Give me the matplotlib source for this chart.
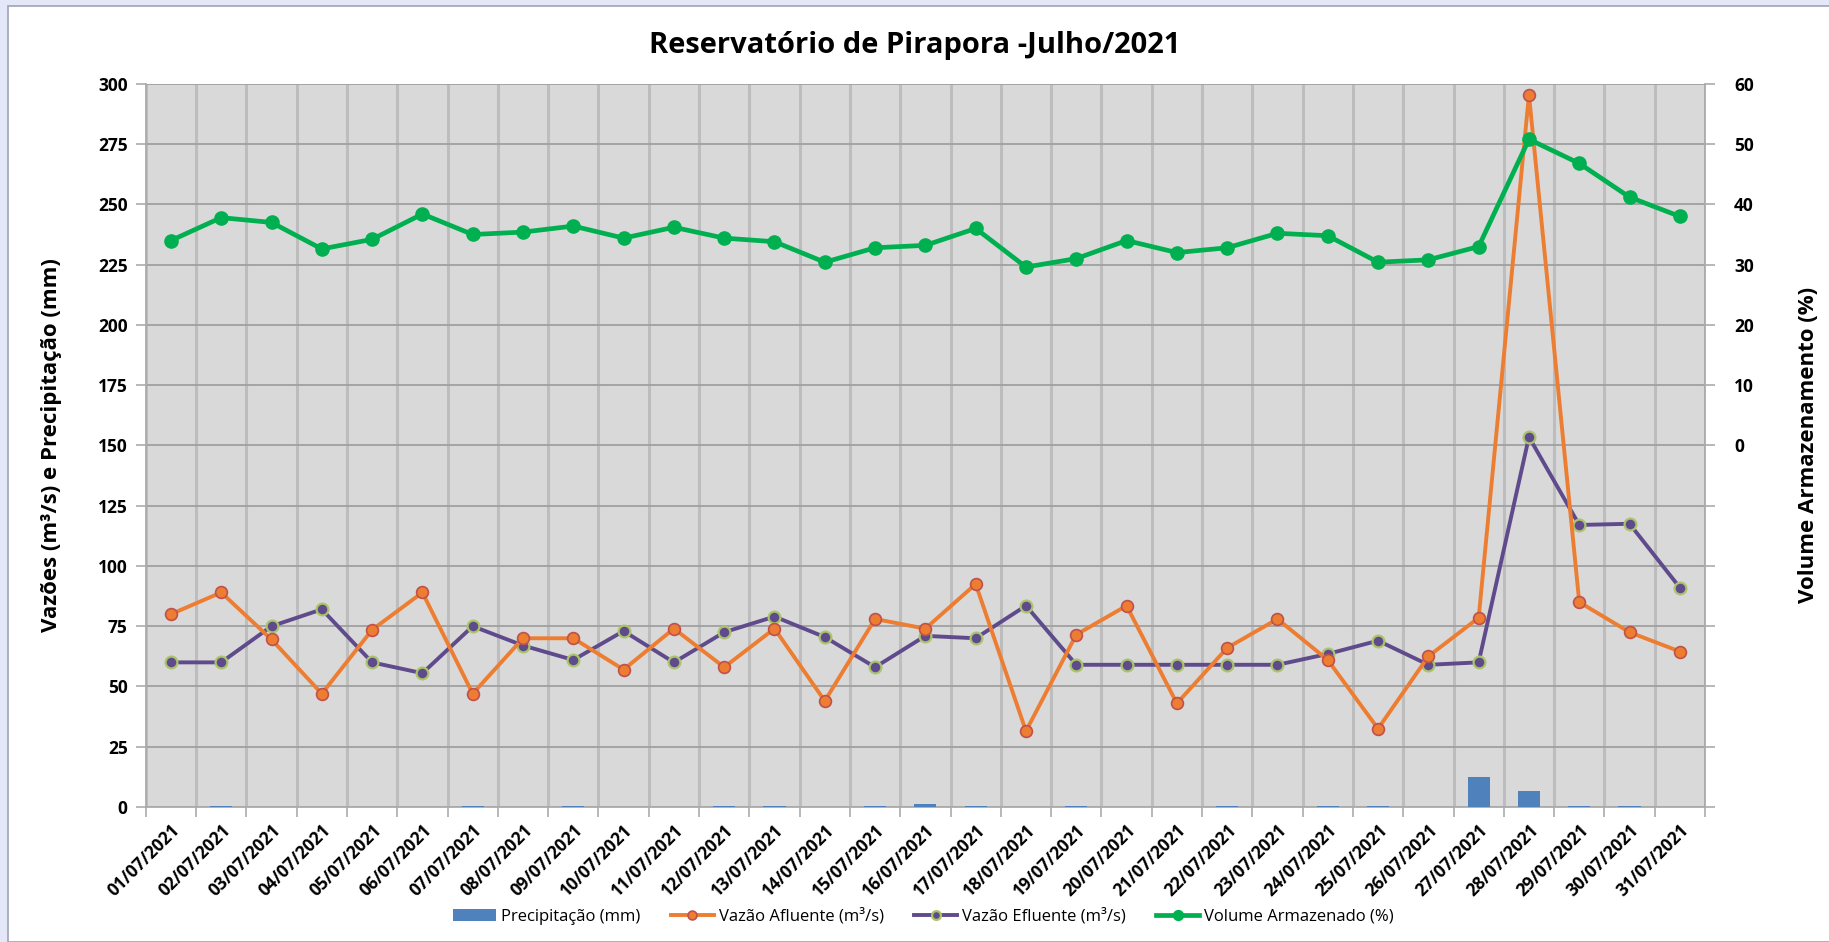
import matplotlib
matplotlib.use("Agg")
import matplotlib.pyplot as plt
from matplotlib.patches import Rectangle
import numpy as np

plt.rcParams["font.family"] = ["Open Sans", "DejaVu Sans"]

# data
dates = [f"{d:02d}/07/2021" for d in range(1, 32)]
precip = [0, 0.6, 0, 0, 0, 0, 0.6, 0, 0.6, 0, 0, 0.6, 0.6, 0, 0.6, 1.2,
          0.6, 0, 0.6, 0, 0, 0.6, 0, 0.6, 0.6, 0, 12.5, 6.5, 0.6, 0.6, 0]
afluente = [80, 89, 69.5, 47, 73.5, 89, 47, 70, 70, 57, 74, 58, 74, 44, 78,
            74, 92.5, 31.5, 71.5, 83.5, 43, 66, 78, 61, 32.5, 62.5, 78.5,
            295.5, 85, 72.5, 64.5]
efluente = [60, 60, 75, 82, 60, 55.5, 75, 67, 61, 73, 60, 72.5, 79, 70.5, 58,
            71, 70, 83.5, 59, 59, 59, 59, 59, 63.5, 69, 59, 60, 153.5, 117,
            117.5, 91]
volume = [34.0, 37.8, 37.0, 32.6, 34.2, 38.4, 35.0, 35.4, 36.4, 34.4, 36.2,
          34.4, 33.8, 30.4, 32.8, 33.2, 36.0, 29.6, 31.0, 34.0, 32.0, 32.8,
          35.2, 34.8, 30.4, 30.8, 33.0, 50.8, 46.8, 41.2, 38.0]

C_BAR = "#4F81BD"
C_AFL = "#ED7D31"
C_EFL = "#5F4B8B"
C_VOL = "#00B050"
C_GRID = "#ABABAB"

fig = plt.figure(figsize=(18.29, 9.42), dpi=100)
fig.patch.set_facecolor("#E3E7F7")
# white card on the lavender background
card = Rectangle((8 / 1829, 0), 1, 1 - 6 / 942, transform=fig.transFigure,
                 facecolor="white", edgecolor="#9EA3B5", lw=1.2, zorder=-10)
fig.add_artist(card)

ax = fig.add_axes([0.0797, 0.1433, 0.8525, 0.7677])
ax.set_facecolor("#D9D9D9")
x = np.arange(len(dates))

bars = ax.bar(x, precip, width=0.44, color=C_BAR, zorder=3,
              label="Precipitação (mm)")
l_afl, = ax.plot(x, afluente, color=C_AFL, lw=2.8, marker="o", ms=8.5,
                 mfc=C_AFL, mec="#C0504D", mew=1.2, zorder=5,
                 label="Vazão Afluente (m³/s)")
l_efl, = ax.plot(x, efluente, color=C_EFL, lw=2.8, marker="o", ms=8.5,
                 mfc=C_EFL, mec="#A9C46A", mew=1.6, zorder=4,
                 label="Vazão Efluente (m³/s)")

ax.set_xlim(-0.5, len(dates) - 0.5)
ax.set_ylim(0, 300)
ax.set_yticks(np.arange(0, 301, 25))
ax.set_xticks(x)
ax.set_xticklabels(dates, rotation=45, ha="right", rotation_mode="anchor",
                   fontsize=12.5, fontweight="bold")
ax.set_xticks(np.arange(-0.5, len(dates), 1), minor=True)
ax.tick_params(axis="x", which="major", length=0, pad=10)
ax.tick_params(axis="x", which="minor", length=7, color=C_GRID, width=1.2)
ax.tick_params(axis="y", length=7, color=C_GRID, width=1.2,
               labelsize=12.5, pad=6)
for lab in ax.get_yticklabels():
    lab.set_fontweight("bold")
ax.grid(axis="y", color="#A0A0A0", lw=1.3, zorder=1)
ax.grid(axis="x", which="minor", color="#BDBDBD", lw=2.2, zorder=1)
for s in ["top", "right"]:
    ax.spines[s].set_visible(False)
ax.spines["left"].set_color(C_GRID)
ax.spines["bottom"].set_color(C_GRID)
ax.spines["left"].set_linewidth(1.3)
ax.spines["bottom"].set_linewidth(1.3)
ax.set_ylabel("Vazões (m³/s) e Precipitação (mm)", fontsize=16,
              fontweight="bold", labelpad=26)

ax2 = ax.twinx()
l_vol, = ax2.plot(x, volume, color=C_VOL, lw=3.4, marker="o", ms=9.5,
                  mfc=C_VOL, mec=C_VOL, zorder=6,
                  label="Volume Armazenado (%)")
ax2.set_ylim(-60, 60)
rticks = np.arange(-60, 61, 10)
ax2.set_yticks(rticks)
ax2.set_yticklabels([str(t) if t >= 0 else "" for t in rticks],
                    fontsize=12.5, fontweight="bold")
ax2.tick_params(axis="y", length=7, color=C_GRID, width=1.2, pad=14)
for s in ["top", "left", "bottom"]:
    ax2.spines[s].set_visible(False)
ax2.spines["right"].set_color(C_GRID)
ax2.spines["right"].set_linewidth(1.3)
ax2.set_ylabel("Volume Armazenamento (%)", fontsize=16, fontweight="bold",
               labelpad=32)

fig.text(0.5, 0.952, "Reservatório de Pirapora -Julho/2021", ha="center",
         va="center", fontsize=21, fontweight="bold")

handles = [bars, l_afl, l_efl, l_vol]
fig.legend(handles, [h.get_label() for h in handles], loc="center",
           bbox_to_anchor=(0.505, 0.027), ncol=4, frameon=False,
           fontsize=12, handlelength=2.6, columnspacing=1.8,
           handletextpad=0.3, markerscale=0.75)

fig.savefig("out.png", dpi=100)
